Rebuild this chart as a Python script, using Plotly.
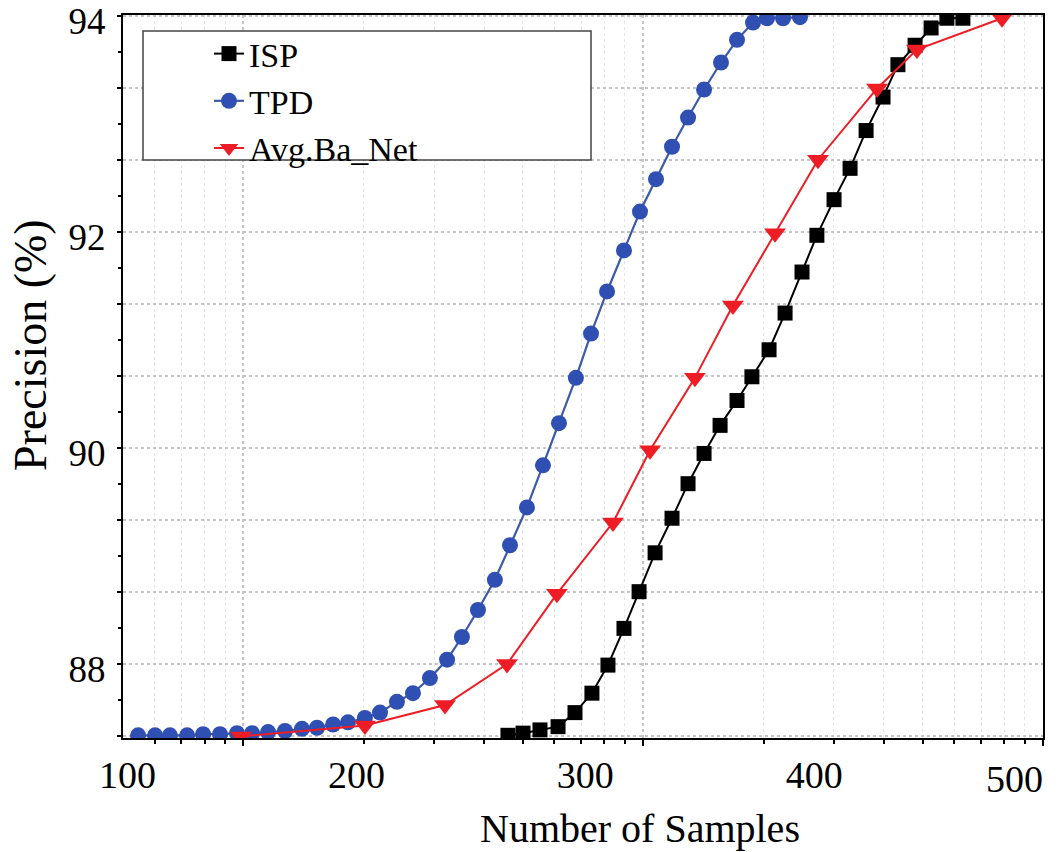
import math
import plotly.graph_objects as go

# ---------------- data ----------------
isp_x = [266.2, 272.8, 280.2, 288.1, 295.5, 302.9, 309.9, 316.9, 323.5, 330.5,
         337.9, 344.9, 351.9, 358.9, 366.3, 372.8, 380.3, 387.3, 394.7, 401.2,
         408.7, 415.7, 422.7, 430.1, 436.6, 444.1, 451.1, 458.0, 465.0]
isp_y = [87.34, 87.36, 87.39, 87.42, 87.55, 87.73, 87.99, 88.33, 88.67, 89.03,
         89.35, 89.67, 89.95, 90.21, 90.44, 90.66, 90.91, 91.25, 91.63, 91.97,
         92.30, 92.59, 92.94, 93.25, 93.55, 93.73, 93.89, 93.98, 93.98]

tpd_x = [104.6, 112.0, 118.5, 126.0, 133.0, 140.4, 147.8, 154.4, 161.4, 168.8,
         176.2, 182.8, 189.8, 196.3, 203.7, 210.3, 217.7, 224.7, 232.1, 239.6,
         246.1, 253.1, 260.5, 267.1, 274.5, 281.5, 288.5, 295.9, 302.5, 309.5,
         316.9, 323.9, 330.9, 337.9, 344.9, 351.9, 359.3, 366.3, 373.3, 379.4,
         386.4, 393.8]
tpd_y = [87.34, 87.34, 87.34, 87.34, 87.35, 87.35, 87.36, 87.36, 87.37, 87.38,
         87.40, 87.41, 87.44, 87.46, 87.50, 87.55, 87.65, 87.73, 87.87, 88.04,
         88.25, 88.50, 88.78, 89.10, 89.45, 89.84, 90.23, 90.65, 91.06, 91.45,
         91.83, 92.19, 92.49, 92.79, 93.06, 93.32, 93.57, 93.78, 93.94, 93.98,
         93.98, 93.99]

avg_x = [149.6, 203.7, 238.7, 265.8, 287.6, 312.1, 328.3, 347.9, 364.5, 382.9,
         401.7, 427.5, 444.9, 482.1]
avg_y = [87.33, 87.43, 87.62, 88.00, 88.65, 89.31, 89.98, 90.65, 91.32, 91.99,
         92.67, 93.33, 93.69, 93.98]

x_ticks = [100, 200, 300, 400]
x_tick_last = [500]          # drawn right-aligned at the frame edge, as in the original
y_ticks = [88, 90, 92, 94]

X_RANGE = [98, 500]
Y_RANGE = [87.315, 94.01]

# log-style background grid (decades dashed, minor solid)
grid_major = [10, 100, 1000]
grid_minor = [6, 7, 8, 9, 20, 30, 40, 50, 60, 70, 80, 90,
              200, 300, 400, 500, 600, 700, 800, 900]

FONT = "Liberation Serif, Times New Roman, serif"
BLUE = "#2f4fb3"
RED = "#ee1c25"

fig = go.Figure()

fig.add_trace(go.Scatter(
    x=isp_x, y=isp_y, name="ISP", mode="lines+markers",
    line=dict(color="black", width=2),
    marker=dict(symbol="square", size=15, color="black"),
))
fig.add_trace(go.Scatter(
    x=tpd_x, y=tpd_y, name="TPD", mode="lines+markers",
    line=dict(color="#3c5aaa", width=2.2),
    marker=dict(symbol="circle", size=16, color=BLUE),
))
fig.add_trace(go.Scatter(
    x=avg_x, y=avg_y, name="Avg.Ba_Net", mode="lines+markers",
    line=dict(color=RED, width=2),
    marker=dict(symbol="triangle-down", size=19, color=RED),
))
# empty traces so the overlay axes (grid / last label) are drawn
fig.add_trace(go.Scatter(x=[], y=[], xaxis="x2", yaxis="y2",
                         showlegend=False, hoverinfo="skip"))
fig.add_trace(go.Scatter(x=[], y=[], xaxis="x3", yaxis="y",
                         showlegend=False, hoverinfo="skip"))

tick_font = dict(family=FONT, size=38)

fig.update_layout(
    template="none",
    width=1061, height=852,
    margin=dict(l=123, r=18, t=15, b=114, autoexpand=False),
    paper_bgcolor="white", plot_bgcolor="white",
    font=dict(family=FONT, color="black", size=36),
    showlegend=True,
    legend=dict(
        x=(209 - 123) / 920, y=(738 - 25) / 723, xanchor="left", yanchor="top",
        bgcolor="rgba(0,0,0,0)", borderwidth=0,
        font=dict(family=FONT, size=34, color="black"),
        tracegroupgap=0, itemsizing="trace",
    ),
    xaxis=dict(
        range=X_RANGE, tickmode="array", tickvals=x_ticks,
        ticks="", showgrid=False, zeroline=False, automargin=False,
        showline=True, linecolor="black", linewidth=2, mirror=True,
        tickfont=tick_font, ticklabelstandoff=2,
    ),
    xaxis3=dict(
        overlaying="x", anchor="y", side="bottom",
        range=X_RANGE, tickmode="array", tickvals=x_tick_last,
        ticklabelposition="outside left",
        ticks="", showgrid=False, zeroline=False, automargin=False,
        showline=False, tickfont=tick_font, ticklabelstandoff=15,
    ),
    yaxis=dict(
        range=Y_RANGE, tickmode="array", tickvals=y_ticks,
        ticks="", showgrid=False, zeroline=False, automargin=False,
        showline=True, linecolor="black", linewidth=2, mirror=True,
        tickfont=dict(family=FONT, size=37), ticklabelstandoff=8,
        ticklabelshift=5, ticklabeloverflow="allow",
    ),
    xaxis2=dict(
        type="log", overlaying="x", anchor="y2", side="bottom",
        range=[math.log10(5), 3], automargin=False,
        tickmode="array", tickvals=grid_major, showticklabels=False,
        ticks="outside", ticklen=7, tickwidth=1.5, tickcolor="black",
        showgrid=True, gridcolor="#c4c4c4", gridwidth=1.5, griddash="dot",
        zeroline=False, showline=False,
        minor=dict(tickmode="array", tickvals=grid_minor, ticks="outside",
                   ticklen=5, tickwidth=1.5, tickcolor="black",
                   showgrid=True, gridcolor="#e4e4e4", gridwidth=1),
    ),
    yaxis2=dict(
        overlaying="y", anchor="x2", side="left", automargin=False,
        range=Y_RANGE, tickmode="linear", tick0=94, dtick=2 / 3,
        showticklabels=False,
        ticks="outside", ticklen=5, tickwidth=1.5, tickcolor="black",
        showgrid=True, gridcolor="#c4c4c4", gridwidth=1.5, griddash="dot",
        zeroline=False, showline=False,
        minor=dict(dtick=1 / 3, ticks="outside", ticklen=4, tickwidth=1.5,
                   tickcolor="black", showgrid=False),
    ),
    shapes=[dict(
        type="rect", xref="paper", yref="paper", layer="above",
        x0=(143 - 123) / 920, x1=(591 - 123) / 920,
        y0=(738 - 160) / 723, y1=(738 - 31) / 723,
        line=dict(color="#444444", width=1.5), fillcolor="white",
    )],
    annotations=[
        dict(text="Number of Samples", xref="paper", yref="paper",
             x=(640 - 123) / 920, y=-(828 - 738) / 723,
             xanchor="center", yanchor="middle", showarrow=False,
             font=dict(family=FONT, size=40)),
        dict(text="Precision (%)", xref="paper", yref="paper",
             x=-(123 - 30) / 920, y=(738 - 345) / 723, textangle=-90,
             xanchor="center", yanchor="middle", showarrow=False,
             font=dict(family=FONT, size=46)),
    ],
)

fig.write_html(
    "out.html",
    config={"displayModeBar": False},
    post_script="document.body.style.margin='0';document.body.style.overflow='hidden';",
)
